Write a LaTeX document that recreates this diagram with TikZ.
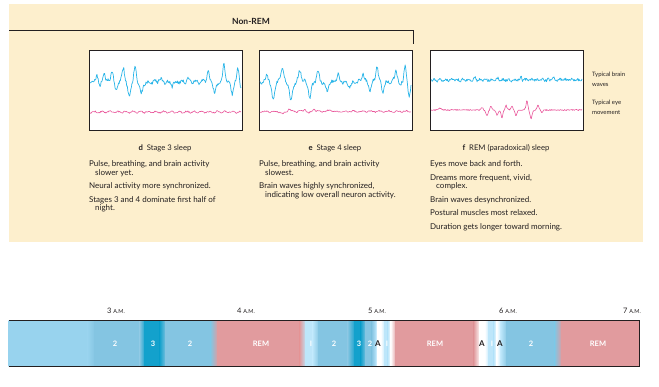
\documentclass[tikz,border=0pt]{standalone}
\usepackage{fontspec}
\setmainfont{Lato}
\definecolor{ink}{HTML}{231F20}
\definecolor{beige}{HTML}{FDEFCD}
\definecolor{wblue}{HTML}{29B5E8}
\definecolor{wpink}{HTML}{E9559A}
\definecolor{cL}{HTML}{98D3EE}
\definecolor{cM}{HTML}{84C5E2}
\definecolor{cD}{HTML}{13A1CC}
\definecolor{cP}{HTML}{E19B9E}
\definecolor{cT}{HTML}{BDE6FA}
\definecolor{cW}{HTML}{FFFFFF}
\tikzset{
  body/.style={anchor=base west, inner sep=0pt, text=ink, font=\fontsize{8}{9}\selectfont},
  capt/.style={anchor=base, inner sep=0pt, text=ink, font=\fontsize{7.7}{9}\selectfont},
  side/.style={anchor=base west, inner sep=0pt, text=ink, font=\fontsize{6}{7}\selectfont},
  tlab/.style={anchor=base, inner sep=0pt, text=ink, font=\fontsize{7.5}{8}\selectfont},
  blab/.style={anchor=center, inner sep=0pt, text=white, font=\bfseries\fontsize{7.5}{8}\selectfont},
  alab/.style={anchor=center, inner sep=0pt, text=ink, font=\bfseries\fontsize{8}{8}\selectfont},
  scope box/.style={draw=ink, fill=white, line width=0.8pt},
  bwave/.style={wblue, line width=0.7pt, line join=round},
  pwave/.style={wpink, line width=0.6pt, line join=round},
}
\newcommand{\am}{{\fontsize{5.5}{6}\selectfont A.M.}}
% bump(t,c,w)
\pgfmathdeclarefunction{b}{3}{\pgfmathparse{(1/(1+((#1-#2)/#3)^2))^2}}
\begin{document}
\begin{tikzpicture}[x=1pt,y=-1pt]
\useasboundingbox (0,0) rectangle (659,387);
\fill[white] (0,0) rectangle (659,387);
\fill[beige] (9,4) rectangle (643,242);

% Non-REM bracket
\node[inner sep=0pt, text=ink, font=\bfseries\fontsize{8.5}{9}\selectfont] (nonrem) at (251,21) {Non-REM};
\coordinate (brL) at (9,30);
\coordinate (brR) at (413,30);
\coordinate (brD) at (413,44);
\draw[ink, line width=0.9pt] (brL) -- (brR) -- (brD);

% scope boxes
\draw[scope box] (89,50) rectangle (242,130);
\draw[scope box] (259,50) rectangle (412,130);
\draw[scope box] (430,50) rectangle (583,130);

% waves box d
\pgfmathsetseed{11}
\draw[bwave] plot[variable=\t, domain=90:241, samples=260] (\t, {82 + 1.7*rand + 1.2*sin(53*(\t-89))
  -8*b(\t,97,2) +6*b(\t,100,2) -10*b(\t,104,2) -12*b(\t,112,2.2) +10*b(\t,116,2.2)
  -15*b(\t,123.5,2.2) +16*b(\t,129,2.5) -15*b(\t,135,2.2) +12*b(\t,141.5,2.5)
  -4*b(\t,160,2) +4*b(\t,172,2) -4*b(\t,188,2)
  -10*b(\t,208,2.2) +11*b(\t,215,2.5) -17*b(\t,224,2.2) +12*b(\t,232,2.5) -14*b(\t,238,2) +7*b(\t,241,1.5)});
\pgfmathsetseed{12}
\draw[pwave] plot[variable=\t, domain=90:241, samples=200] (\t, {112 + 0.7*rand + 0.7*sin(47*(\t-89))});

% waves box e
\pgfmathsetseed{21}
\draw[bwave] plot[variable=\t, domain=260:411, samples=260] (\t, {82 + 1.7*rand + 1.2*sin(53*(\t-259))
  -9*b(\t,267,2) +18*b(\t,273,2.5) -15*b(\t,282,2.5) +20*b(\t,291,2.5) -12*b(\t,300,2.5)
  +16*b(\t,310,2.5) -11*b(\t,318,2.2) +8*b(\t,327,2.5) -7*b(\t,338,2.5) +5*b(\t,350,2.5)
  -9*b(\t,363,2) +8*b(\t,370,2.2) -16*b(\t,377,2) +10*b(\t,383,2.2) -14*b(\t,396,2)
  +5*b(\t,400,2) -18*b(\t,405,1.8) +15*b(\t,409,2)});
\pgfmathsetseed{22}
\draw[pwave] plot[variable=\t, domain=260:411, samples=200] (\t, {111.5 + 0.7*rand + 0.6*sin(41*(\t-259))
  +3*b(\t,283,2.5) -3*b(\t,289,2) -3*b(\t,305,1.5) +2*b(\t,309,2) -3*b(\t,314,1.5) -2*b(\t,330,2)});

% waves box f
\pgfmathsetseed{31}
\draw[bwave] plot[variable=\t, domain=431:582, samples=260] (\t, {80 + 1.3*rand + 0.8*sin(63*(\t-430))
  -3*b(\t,475,1.2) -2*b(\t,498,1.2) -4*b(\t,521,1.2) -3*b(\t,553,1.2)});
\pgfmathsetseed{32}
\draw[pwave] plot[variable=\t, domain=431:582, samples=260] (\t, {110 + 0.6*rand
  -2*b(\t,440,2) -3*b(\t,482,1.5) +6*b(\t,487,1.8) -4*b(\t,491,1.5) +5*b(\t,497,1.8)
  +8*b(\t,502,1.5) -5*b(\t,506,1.5) -4*b(\t,512,1.5) +6*b(\t,516,1.8) -10*b(\t,527,1.5)
  +9*b(\t,531,1.8) -5*b(\t,538,1.5) +3*b(\t,542,1.5)});

% side labels
\node[side] (tb1) at (592,77) {Typical brain};
\node[side] (tb2) at (592,86.5) {waves};
\node[side] (te1) at (592,105) {Typical eye};
\node[side] (te2) at (592,114.5) {movement};

% captions
\node[capt] (cd) at (165,150.5) {\textbf{d}\enspace Stage 3 sleep};
\node[capt] (ce) at (335,150.5) {\textbf{e}\enspace Stage 4 sleep};
\node[capt] (cf) at (506,150.5) {\textbf{f}\enspace REM (paradoxical) sleep};

% text d
\node[body] (d1) at (89,167) {Pulse, breathing, and brain activity};
\node[body] (d2) at (95,175.5) {slower yet.};
\node[body] (d3) at (89,189) {Neural activity more synchronized.};
\node[body] (d4) at (89,202.5) {Stages 3 and 4 dominate first half of};
\node[body] (d5) at (95,211) {night.};

% text e
\node[body] (e1) at (259,167) {Pulse, breathing, and brain activity};
\node[body] (e2) at (265,175.5) {slowest.};
\node[body] (e3) at (259,189) {Brain waves highly synchronized,};
\node[body] (e4) at (265,197.5) {indicating low overall neuron activity.};

% text f
\node[body] (f1) at (430,167) {Eyes move back and forth.};
\node[body] (f2) at (430,180.5) {Dreams more frequent, vivid,};
\node[body] (f3) at (436,189) {complex.};
\node[body] (f4) at (430,202.5) {Brain waves desynchronized.};
\node[body] (f5) at (430,216) {Postural muscles most relaxed.};
\node[body] (f6) at (430,229.5) {Duration gets longer toward morning.};

% timeline labels
\node[tlab] (t3) at (116,313.5) {3 \am};
\node[tlab] (t4) at (246,313.5) {4 \am};
\node[tlab] (t5) at (377,313.5) {5 \am};
\node[tlab] (t6) at (508,313.5) {6 \am};
\node[tlab] (t7) at (632,313.5) {7 \am};

% bar
\foreach \xa/\ca/\xb/\cb in {
  9/cL/88/cL, 88/cL/95/cM, 95/cM/140/cM, 140/cM/145/cD, 145/cD/160/cD, 160/cD/166/cM,
  166/cM/211/cM, 211/cM/218/cP, 218/cP/300/cP, 300/cP/306/cT, 306/cT/313/cT, 313/cT/319/cM,
  319/cM/348/cM, 348/cM/355/cD, 355/cD/361/cD, 361/cD/366/cM, 366/cM/372/cM, 372/cM/376/cT,
  376/cT/378/cW, 378/cW/381/cW, 381/cW/385/cT, 385/cT/388/cT, 388/cT/391/cW, 391/cW/396/cP, 396/cP/474/cP,
  474/cP/480/cW, 480/cW/485/cW, 485/cW/489/cT, 489/cT/494/cT, 494/cT/497/cW, 497/cW/501/cT,
  501/cT/507/cM, 507/cM/555/cM, 555/cM/562/cP, 562/cP/639/cP}
  {\shade[left color=\ca, right color=\cb] (\xa-0.3,320.5) rectangle (\xb+0.3,366.5);}
\fill[white] (639.4,318) rectangle (645,370);
\coordinate (bTL) at (9,320.5);
\coordinate (bTR) at (639,320.5);
\coordinate (bBR) at (639,366.5);
\coordinate (bBL) at (9,366.5);
\draw[ink, line width=0.9pt] (bTL) -- (bTR) -- (bBR) -- (bBL);

% bar labels
\node[blab] (s1) at (115,344) {2};
\node[blab] (s2) at (153,344) {3};
\node[blab] (s3) at (190,344) {2};
\node[blab] (s4) at (261,344) {REM};
\node[blab] (s5) at (311,344) {I};
\node[blab] (s6) at (334,344) {2};
\node[blab] (s7) at (359,344) {3};
\node[blab] (s8) at (370,344) {2};
\node[alab] (s9) at (378,344) {A};
\node[blab] (s10) at (387,344) {I};
\node[blab] (s11) at (435,344) {REM};
\node[alab] (s12) at (482,344) {A};
\node[blab] (s13) at (492,344) {I};
\node[alab] (s14) at (500,344) {A};
\node[blab] (s15) at (531,344) {2};
\node[blab] (s16) at (598,344) {REM};
\end{tikzpicture}
\end{document}
